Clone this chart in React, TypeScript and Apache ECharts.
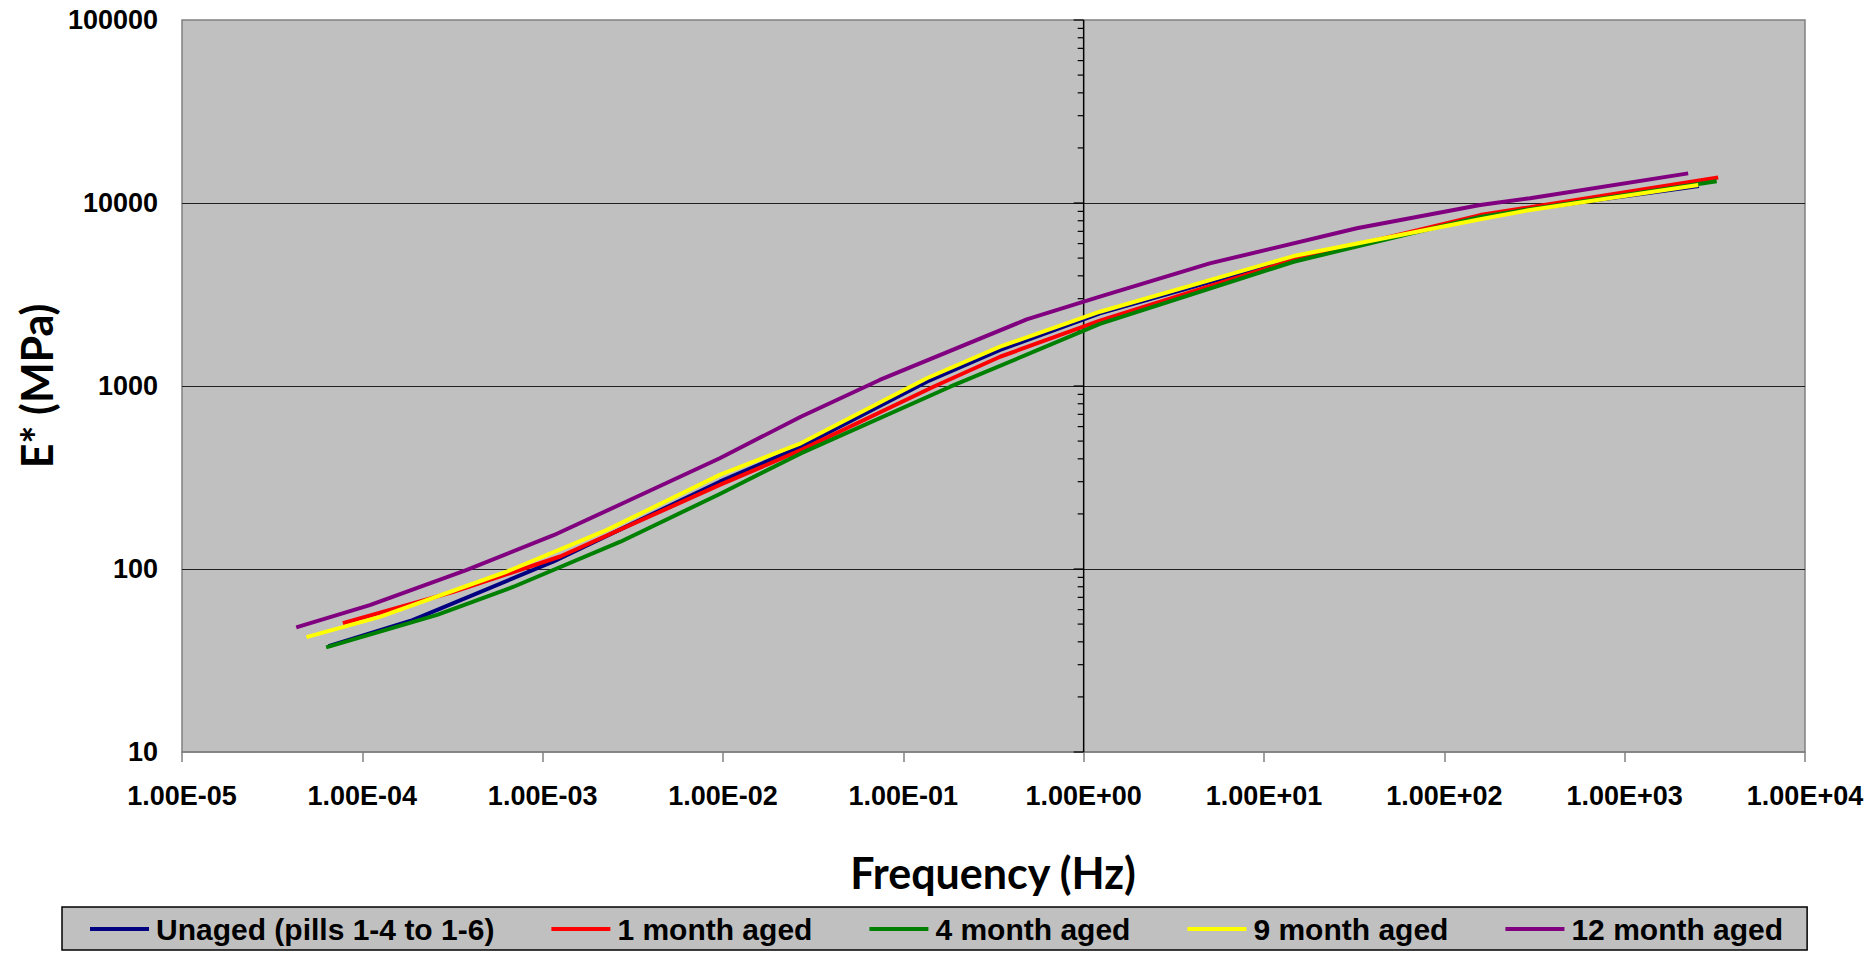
import React, { useEffect, useRef } from "react";
import * as echarts from "echarts";

// ---- data (Frequency in Hz, E* in MPa) ----
const seriesNames = [
  "Unaged (pills 1-4 to 1-6)",
  "1 month aged",
  "4 month aged",
  "9 month aged",
  "12 month aged",
];
const seriesColors = ["#000080", "#FF0000", "#008000", "#FFFF00", "#800080"];

const freqUnaged = [6.5e-5, 1.9e-4, 1.15e-3, 9.6e-3, 2.7e-2, 0.135, 0.344, 1.23, 14.6, 158, 299, 2580];
const eUnaged = [37.9, 52.6, 110, 300, 466, 1056, 1574, 2494, 4990, 8300, 9250, 12400];

const freq1m = [7.8e-5, 3.2e-4, 1.25e-3, 9.6e-3, 2.7e-2, 0.147, 0.344, 1.23, 14.6, 158, 299, 3300];
const e1m = [50.5, 75, 117, 288, 446, 991, 1445, 2275, 4886, 8590, 9480, 13800];

const freq4m = [6.3e-5, 2.6e-4, 6.9e-4, 2.7e-3, 9.6e-3, 2.7e-2, 0.182, 1.23, 14.6, 158, 299, 3240];
const e4m = [37.3, 56.1, 80, 141, 257, 428, 991, 2183, 4776, 8400, 9250, 13150];

const freq9m = [4.9e-5, 1.25e-4, 6.3e-4, 2.26e-3, 9.6e-3, 2.7e-2, 0.135, 0.344, 1.23, 14.6, 158, 299, 2560];
const e9m = [42.4, 54.8, 96.6, 163, 327, 486, 1102, 1641, 2546, 5129, 8150, 9163, 12540];

const freq12m = [4.3e-5, 1.1e-4, 3.8e-4, 1.15e-3, 2.9e-3, 9.6e-3, 2.7e-2, 7.4e-2, 0.483, 1.23, 5.0, 32.7, 158, 299, 2250];
const e12m = [48, 63.5, 99, 153, 233, 403, 679, 1079, 2312, 3077, 4677, 7280, 9750, 10620, 14520];

const seriesFreqs = [freqUnaged, freq1m, freq4m, freq9m, freq12m];
const seriesValues = [eUnaged, e1m, e4m, e9m, e12m];

// axis ranges
const xMin = 1e-5;
const xMax = 1e4;
const yMin = 10;
const yMax = 100000;
// value-axis crossing (Excel style) at 1 Hz
const crossAt = 1;
const decadeStarts = [10, 100, 1000, 10000];
const minorMultipliers = [1, 2, 3, 4, 5, 6, 7, 8, 9];

const FONT = 'Arial, "Liberation Sans", Helvetica, sans-serif';
const TITLE_FONT = 'Lato, "Open Sans", sans-serif';

function fmtSci(v: number): string {
  const e = Math.round(Math.log10(v));
  const m = v / Math.pow(10, e);
  const sign = e < 0 ? "-" : "+";
  return m.toFixed(2) + "E" + sign + String(Math.abs(e)).padStart(2, "0");
}

export default function App() {
  const ref = useRef<HTMLDivElement>(null);

  useEffect(() => {
    if (!ref.current) return;
    const chart = echarts.init(ref.current, undefined, { renderer: "svg" });

    const tickVals: number[][] = [];
    decadeStarts.forEach((d) => minorMultipliers.forEach((m) => tickVals.push([crossAt, d * m])));
    tickVals.push([crossAt, yMax]);

    const lineSeries = seriesNames.map((name, i) => ({
      name,
      type: "line",
      data: seriesFreqs[i].map((f, j) => [f, seriesValues[i][j]]),
      symbol: "none",
      showSymbol: false,
      smooth: false,
      lineStyle: { color: seriesColors[i], width: 4 },
      itemStyle: { color: seriesColors[i] },
      z: 3,
    }));

    const option: any = {
      animation: false,
      backgroundColor: "#ffffff",
      grid: {
        left: 182,
        top: 20,
        right: 70,
        bottom: 201,
        show: true,
        backgroundColor: "#C0C0C0",
        borderColor: "#808080",
        borderWidth: 1.5,
        containLabel: false,
        outerBoundsMode: "none",
      },
      xAxis: {
        type: "log",
        logBase: 10,
        min: xMin,
        max: xMax,
        splitNumber: 9,
        axisLine: { show: true, lineStyle: { color: "#808080", width: 1.5 } },
        axisTick: { show: true, length: 10, inside: false, lineStyle: { color: "#808080", width: 1.5 } },
        minorTick: { show: false },
        splitLine: { show: false },
        axisLabel: {
          show: true,
          margin: 30,
          fontSize: 27,
          fontWeight: "bold",
          fontFamily: FONT,
          color: "#000",
          formatter: (v: number) => fmtSci(v),
          showMinLabel: true,
          showMaxLabel: true,
        },
      },
      yAxis: {
        type: "log",
        logBase: 10,
        min: yMin,
        max: yMax,
        splitNumber: 4,
        axisLine: { show: false },
        axisTick: { show: false },
        splitLine: {
          show: true,
          showMinLine: false,
          showMaxLine: false,
          lineStyle: { color: "#202020", width: 1.2 },
        },
        axisLabel: {
          show: true,
          margin: 24,
          fontSize: 27,
          fontWeight: "bold",
          fontFamily: FONT,
          color: "#000",
          formatter: (v: number) => String(Math.round(v)),
          showMinLabel: true,
          showMaxLabel: true,
        },
      },
      legend: {
        data: seriesNames.map((n) => ({ name: n, icon: "rect" })),
        left: 62,
        top: 907,
        orient: "horizontal",
        padding: [7, 24, 6, 28],
        itemGap: 57,
        itemWidth: 59,
        itemHeight: 4,
        backgroundColor: "#C0C0C0",
        borderColor: "#000",
        borderWidth: 1.5,
        borderRadius: 0,
        textStyle: {
          fontSize: 30,
          fontWeight: "bold",
          fontFamily: FONT,
          color: "#000",
          padding: [0, 0, 0, 2],
        },
      },
      graphic: [
        {
          type: "text",
          x: 993,
          y: 872,
          style: {
            text: "Frequency (Hz)",
            fontSize: 43,
            fontWeight: "bold",
            fontFamily: TITLE_FONT,
            fill: "#000",
            textAlign: "center",
            textVerticalAlign: "middle",
          },
        },
        {
          type: "text",
          x: 36,
          y: 386,
          rotation: Math.PI / 2,
          style: {
            text: "E* (MPa)",
            fontSize: 43,
            fontWeight: "bold",
            fontFamily: TITLE_FONT,
            fill: "#000",
            textAlign: "center",
            textVerticalAlign: "middle",
          },
        },
      ],
      series: [
        {
          type: "custom",
          name: "axisAtOne",
          coordinateSystem: "cartesian2d",
          silent: true,
          z: 2,
          data: tickVals,
          encode: { x: 0, y: 1 },
          renderItem: (params: any, api: any) => {
            const v = api.value(1);
            const p = api.coord([api.value(0), v]);
            const lg = Math.log10(v);
            const major = Math.abs(lg - Math.round(lg)) < 1e-9;
            const len = major ? 10 : 6;
            const children: any[] = [
              {
                type: "line",
                shape: { x1: p[0] - len, y1: p[1], x2: p[0], y2: p[1] },
                style: { stroke: "#000", lineWidth: 1.2 },
              },
            ];
            if (params.dataIndex === 0) {
              const top = api.coord([api.value(0), yMax]);
              children.push({
                type: "line",
                shape: { x1: p[0], y1: p[1], x2: top[0], y2: top[1] },
                style: { stroke: "#000", lineWidth: 1.5 },
              });
            }
            return { type: "group", children };
          },
        },
        ...lineSeries,
      ],
    };

    chart.setOption(option);
    return () => chart.dispose();
  }, []);

  return (
    <div
      ref={ref}
      style={{ position: "absolute", left: 0, top: 0, width: 1875, height: 953 }}
    />
  );
}
